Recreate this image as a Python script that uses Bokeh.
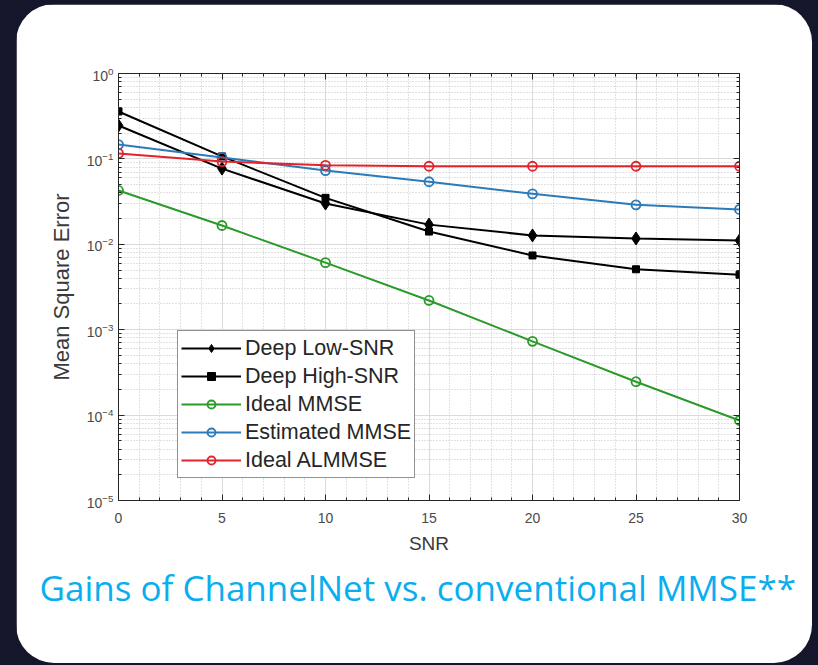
from bokeh.plotting import figure
from bokeh.models import (Range1d, FixedTicker, Legend, LegendItem, LogAxis, LinearAxis, Title)
from bokeh.embed import file_html
from bokeh.resources import INLINE

# ---------------- data ----------------
snr = [0, 5, 10, 15, 20, 25, 30]
deep_low_snr = [0.246, 0.077, 0.030, 0.017, 0.0127, 0.0117, 0.0111]
deep_high_snr = [0.359, 0.107, 0.035, 0.0141, 0.0074, 0.0051, 0.0044]
ideal_mmse = [0.0427, 0.0166, 0.0061, 0.0022, 0.00073, 0.000246, 0.0000865]
estimated_mmse = [0.147, 0.104, 0.073, 0.054, 0.039, 0.029, 0.0256]
ideal_almmse = [0.116, 0.093, 0.084, 0.082, 0.082, 0.082, 0.082]

series_names = ["Deep Low-SNR", "Deep High-SNR", "Ideal MMSE", "Estimated MMSE", "Ideal ALMMSE"]
x_ticks = [0, 5, 10, 15, 20, 25, 30]
y_ticks = [1e-5, 1e-4, 1e-3, 1e-2, 1e-1, 1e0]
caption = "Gains of ChannelNet vs. conventional MMSE**"
x_label = "SNR"
y_label = "Mean Square Error"

# ---------------- style ----------------
DARK = "#15152b"
AX = "#262626"
TICK_TXT = "#4a4a4a"
FONT = "Liberation Sans"

x_minor = list(range(0, 31))
y_minor = [m * 10.0 ** e for e in range(-5, 0) for m in range(2, 10)]

p = figure(width=796, height=659,
           x_range=Range1d(0, 30), y_range=Range1d(1e-5, 1),
           y_axis_type="log",
           output_backend="svg", toolbar_location=None,
           min_border_left=102, min_border_right=73,
           min_border_top=69, min_border_bottom=163,
           border_fill_color="white", background_fill_color="white",
           outline_line_color=AX, outline_line_width=1)
p.styles = {"border-radius": "38px", "overflow": "hidden"}

bottom_ax = p.below[0]
left_ax = p.left[0]

xt = FixedTicker(ticks=x_ticks, minor_ticks=x_minor)
yt = FixedTicker(ticks=y_ticks, minor_ticks=y_minor)
bottom_ax.ticker = xt
left_ax.ticker = yt

# extra box axes (top/right) with ticks only
top_ax = LinearAxis(ticker=xt, major_label_text_color=None)
right_ax = LogAxis(ticker=yt, major_label_text_color=None)
p.add_layout(top_ax, "above")
p.add_layout(right_ax, "right")

for ax in [bottom_ax, left_ax, top_ax, right_ax]:
    ax.axis_line_color = AX
    ax.major_tick_line_color = AX
    ax.minor_tick_line_color = AX
    ax.major_tick_in = 6
    ax.major_tick_out = 0
    ax.minor_tick_in = 3
    ax.minor_tick_out = 0
    ax.major_label_text_font = FONT
    ax.major_label_text_font_size = "14px"

bottom_ax.major_label_text_color = TICK_TXT
left_ax.major_label_text_color = TICK_TXT
bottom_ax.major_label_standoff = 12
left_ax.major_label_standoff = 5
for ax, lab, fs in [(bottom_ax, x_label, "19px"), (left_ax, y_label, "22px")]:
    ax.axis_label = lab
    ax.axis_label_text_font = FONT
    ax.axis_label_text_font_style = "normal"
    ax.axis_label_text_color = "#3a3a3a"
    ax.axis_label_text_font_size = fs
bottom_ax.axis_label_standoff = 7
left_ax.axis_label_standoff = 10

for g in [p.xgrid[0], p.ygrid[0]]:
    g.grid_line_color = "#dadada"
    g.grid_line_width = 1
    g.minor_grid_line_color = "#c4c4c4"
    g.minor_grid_line_dash = "1 2"
    g.minor_grid_line_width = 1

# ---------------- series ----------------
GREEN = "#2a9a2a"
BLUE = "#2b7bba"
RED = "#e3232c"
ys = [deep_low_snr, deep_high_snr, ideal_mmse, estimated_mmse, ideal_almmse]
colors = ["black", "black", GREEN, BLUE, RED]
markers = ["diamond", "square", "circle", "circle", "circle"]
sizes = [13, 7, 9, 9, 9]

items = []
for name, y, c, m, s in zip(series_names, ys, colors, markers, sizes):
    lr = p.line(snr, y, line_color=c, line_width=2)
    if m == "circle":
        sr = p.scatter(snr, y, marker=m, size=s, line_color=c, line_width=1.8, fill_color=None)
    else:
        sr = p.scatter(snr, y, marker=m, size=s, line_color=c, fill_color=c)
    items.append(LegendItem(label=name, renderers=[lr, sr]))

legend = Legend(items=items, location=(59, 22),
                label_text_font=FONT, label_text_font_size="21.5px", label_text_color=AX,
                glyph_width=60, glyph_height=20, label_height=28, spacing=0,
                label_standoff=4, padding=3, margin=0,
                border_line_color=AX, border_line_width=1.2,
                background_fill_color="white", background_fill_alpha=1)
p.add_layout(legend, "center")

# ---------------- caption ----------------
p.add_layout(Title(text=caption, align="left", offset=-79, standoff=11,
                   text_font="Open Sans", text_font_size="35px", text_font_style="normal",
                   text_color="#0aaeef"), "below")

html = file_html(p, INLINE, title="ChannelNet MSE")
css = ("<style>html,body{background:%s !important;margin:0 !important;}"
       "body{padding:4px 0 0 16px !important;box-sizing:border-box !important;}</style>" % DARK)
html = html.replace("<head>", "<head>" + css, 1)
open("out.html", "w").write(html)
